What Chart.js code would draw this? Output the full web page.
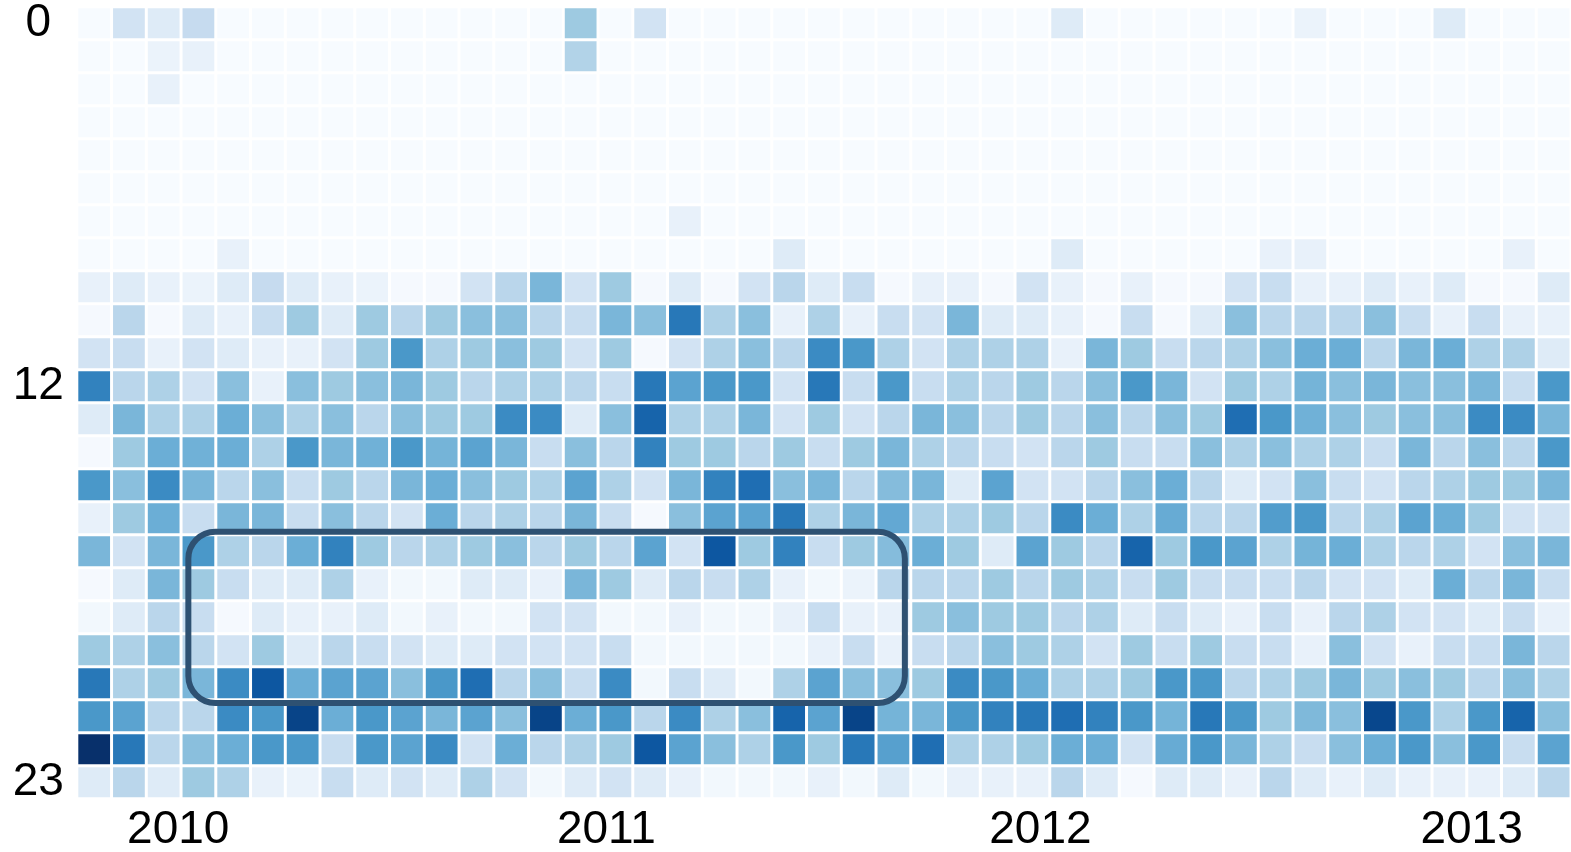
<!DOCTYPE html>
<html>
<head>
<meta charset="utf-8">
<script src="https://cdn.jsdelivr.net/npm/chart.js@4/dist/chart.umd.min.js"></script>
<style>
  html, body { margin: 0; padding: 0; background: #ffffff; }
  #wrap { width: 1571px; height: 852px; }
</style>
</head>
<body>
<div id="wrap"><canvas id="chart" width="1571" height="852"></canvas></div>
<script>
// Интенсивность по часам (строки 0..23) и периодам (43 столбца), шкала 0..8
var hourRows = [
  [0,1.5,1,2,0,0,0,0,0,0, 0,0,0,0,3,0,1.5,0,0,0, 0,0,0,0,0,0,0,0,1,0, 0,0,0,0,0,0.5,0,0,0,1, 0,0,0],
  [0,0,0.5,0.6,0,0,0,0,0,0, 0,0,0,0,2.5,0,0,0,0,0, 0,0,0,0,0,0,0,0,0,0, 0,0,0,0,0,0,0,0,0,0, 0,0,0],
  [0,0,0.6,0,0,0,0,0,0,0, 0,0,0,0,0,0,0,0,0,0, 0,0,0,0,0,0,0,0,0,0, 0,0,0,0,0,0,0,0,0,0, 0,0,0],
  [0,0,0,0,0,0,0,0,0,0, 0,0,0,0,0,0,0,0,0,0, 0,0,0,0,0,0,0,0,0,0, 0,0,0,0,0,0,0,0,0,0, 0,0,0],
  [0,0,0,0,0,0,0,0,0,0, 0,0,0,0,0,0,0,0,0,0, 0,0,0,0,0,0,0,0,0,0, 0,0,0,0,0,0,0,0,0,0, 0,0,0],
  [0,0,0,0,0,0,0,0,0,0, 0,0,0,0,0,0,0,0,0,0, 0,0,0,0,0,0,0,0,0,0, 0,0,0,0,0,0,0,0,0,0, 0,0,0],
  [0,0,0,0,0,0,0,0,0,0, 0,0,0,0,0,0,0,0.6,0,0, 0,0,0,0,0,0,0,0,0,0, 0,0,0,0,0,0,0,0,0,0, 0,0,0],
  [0,0,0,0,0.6,0,0,0,0,0, 0,0,0,0,0,0,0,0,0,0, 1,0,0,0,0,0,0,0,1,0, 0,0,0,0,0.6,0.6,0,0,0,0, 0,0.6,0],
  [0.6,1,0.6,0.5,1,2,1,0.6,0.5,0.1, 0.1,1.5,2.3,3.7,1.5,3,0.1,1,0.1,1.5, 2.3,1,1.9,0.1,0.6,0.6,0.1,1.5,0.6,0.1, 0.6,0.1,0.1,1.5,1.9,0.6,0.6,1,0.6,1, 0.1,0.1,1],
  [0.1,2.3,0.1,1,0.6,1.9,3,1,3,2.3, 3,3.4,3.4,2.3,1.9,3.7,3.4,5.8,2.6,3.4, 0.6,2.6,0.6,1.9,1.5,3.7,1,1,0.6,0.1, 1.9,0.1,1,3.4,2.3,2.3,2.3,3.4,1.9,0.6, 1.9,0.6,0.6],
  [1.5,1.9,0.6,1.5,1,0.6,0.6,1.5,3,4.8, 2.6,3,3.4,3,1.5,3,0.1,1.5,2.6,3.4, 2.3,5.2,4.8,2.6,1.5,2.6,2.6,2.6,0.6,3.7, 3,1.9,2.3,2.6,3.4,4,4,2.3,3.7,4, 2.6,2.6,1],
  [5.5,2.3,2.6,1.5,3.4,0.6,3.4,3,3.4,3.7, 3,2.3,2.6,2.6,2.3,1.9,5.8,4.4,4.8,4.8, 1.5,5.8,1.9,4.8,1.9,2.6,2.3,3,2.3,3.4, 4.8,3.7,1.5,3,2.6,3.8,3.4,3.7,3.4,3.4, 3.7,1.9,4.8],
  [1,3.7,2.6,2.6,4,3.4,2.6,3.4,2.3,3.4, 3,3,5.2,5.2,1,3.4,6.4,2.6,2.6,3.7, 1.5,3,1.5,2.3,3.7,3.4,2.3,3,2.3,3.4, 2.3,3.4,3,6.1,4.8,3.9,3.4,3,3.4,3.4, 5.2,5.2,3.7],
  [0.1,3,4,3.9,4,2.6,4.8,3.7,3.9,4.8, 3.8,4.4,3.7,1.9,3.4,2.3,5.5,3,3,2.3, 3,1.9,3,3.7,2.6,2.3,1.9,1.5,2.3,3, 1.9,1.9,3.4,2.6,3.4,2.6,2.6,1.9,3.7,2.3, 3.4,2.3,4.8],
  [4.8,3.4,5.2,3.7,2.3,3.4,1.9,3,2.3,3.7, 4,3.4,3,2.6,4.4,2.6,1.5,3.7,5.5,6.1, 3.4,3.7,2.3,3.5,3.7,1,4.4,1.5,1.5,2.3, 3.4,4,2.3,1,1.5,3.4,1.9,1.5,2.3,2.6, 3,3,3.7],
  [0.6,3,4,1.9,3.7,3.7,1.9,3.4,2.3,1.5, 4,2.3,2.6,2.3,3.7,1.9,0.1,3.4,4.4,4.4, 5.8,2.6,3.7,4.2,2.6,2.6,3,2.3,5.2,4, 2.6,4.1,2.3,2.3,4.6,4.8,2.3,2.6,4.4,4, 3,1.5,1.5],
  [3.7,1.5,3.7,4.8,2.6,2.3,4,5.5,3,2.3, 2.6,3,3.4,2.3,3,2.3,4.4,1.5,6.8,3, 5.5,1.9,3,3.5,4,3,1,4.4,3,2.3, 6.4,3,4.8,4.4,2.6,3.8,4,2.6,2.3,2.6, 1.5,3.4,3.7],
  [0.1,1,3.7,3,1.9,1,1,2.6,0.6,0.2, 0.2,1,1,0.6,3.7,3,1,2.3,1.9,2.6, 0.6,0.2,0.5,2.3,2.3,2.3,3,2.3,3,2.6, 1.9,3,1.9,1.9,1.9,2.3,1.5,1.5,1,4, 2.3,3.7,1.9],
  [0.2,1,2.3,1.9,0.1,1,0.6,0.6,1,0.2, 0.6,0.2,0.2,1.5,1.5,0.2,0.2,0.6,0.2,0.2, 0.6,1.9,0.6,0.6,3,3.4,3,3,2.3,2.6, 1,1.9,1,0.6,1.9,0.6,2.3,2.6,1.5,1.5, 1,1.9,0.6],
  [3,2.6,3.4,2.3,1.5,3,1,2.3,1.9,1.5, 1,1,1.5,1.5,1.5,1.9,0.2,0.2,0.2,0.2, 0.2,0.6,1.9,0.6,1.9,2.3,3.4,3,2.6,1.5, 3,1.9,3,1.9,1.9,0.6,3.4,1.5,0.6,1.9, 1.9,3.7,2.3],
  [5.8,2.6,3,3.7,5.2,6.8,4,4.4,4.4,3.4, 4.8,6.1,2.3,3.4,1.9,5.2,0.2,1.9,1,0.2, 2.6,4.4,3.4,3.4,3,5.2,4.8,4,2.6,2.6, 3,4.8,4.8,2.3,2.6,3,3.7,3,3.4,3, 2.3,3.4,2.6],
  [4.8,4.4,2.3,2.3,5.2,4.8,7.4,4,4.8,4.4, 3.7,4.4,3.4,7.4,4,4.8,2.3,5.2,2.6,3.4, 6.4,4.4,7.4,3.8,3.7,4.8,5.5,5.8,6.1,5.5, 4.8,3.8,5.8,4.8,3,3.6,3.4,7.3,4.8,2.6, 4.8,6.4,3.4],
  [8,5.8,2.3,3.4,4,4.8,4.8,1.9,4.8,4.4, 5.2,1.5,4,2.3,2.6,3,6.8,4.4,3.4,2.6, 4.8,3,5.8,4.5,6.1,2.6,2.6,3,4,4, 1.5,4.1,4.8,3.7,2.6,1.9,3.4,4,4.8,3.4, 4.8,1.9,4.4],
  [1,2.3,1,3,2.6,0.6,0.5,1.9,1,1.5, 1,2.6,1.5,0.2,1,1.5,1,0.6,0.2,0.2, 0.2,0.6,0.2,1,0.2,0.6,0.6,0.6,2.3,1, 0.1,1,1,0.6,2.3,1,0.6,1,0.6,0.6, 0.6,1,2.3]
];

// Подписи осей
var yearLabels = ['2010', '2011', '2012', '2013'];
var yearTickAt = [2.92, 15.24, 27.73, 40.14];   // в единицах столбцов
var hourLabels = ['0', '12', '23'];
var hourTickRow = [0, 11, 23];

// Выделенная область (столбцы / строки)
var highlight = { x0: 3.21, x1: 23.83, y0: 15.91, y1: 21.1 };

var columnCount = hourRows[0].length;
var rowCount = hourRows.length;

// Палитра Blues
var BLUES = [[247,251,255],[222,235,247],[198,219,239],[158,202,225],[107,174,214],
             [66,146,198],[33,113,181],[8,81,156],[8,48,107]];
function blues(v) {
  var t = Math.max(0, Math.min(8, v));
  var i = Math.min(7, Math.floor(t));
  var f = t - i;
  var a = BLUES[i], b = BLUES[i + 1];
  return 'rgb(' + Math.round(a[0] + (b[0] - a[0]) * f) + ',' +
                  Math.round(a[1] + (b[1] - a[1]) * f) + ',' +
                  Math.round(a[2] + (b[2] - a[2]) * f) + ')';
}

// Каждая строка часа — отдельный набор плавающих столбиков
var datasets = hourRows.map(function (row, r) {
  return {
    data: row.map(function (v, c) { return { x: c + 0.5, y: [r, r + 1], v: v }; }),
    backgroundColor: function (ctx) { return blues(ctx.raw ? ctx.raw.v : 0); },
    borderColor: '#ffffff',
    borderWidth: 1.5,
    borderSkipped: false,
    inflateAmount: 0,
    grouped: false,
    barPercentage: 1,
    categoryPercentage: 1
  };
});

var labelFont = { family: 'Liberation Sans, Arial, sans-serif', size: 46 };

// Рамка со скруглёнными углами поверх ячеек
var highlightBox = {
  id: 'highlightBox',
  afterDatasetsDraw: function (chart) {
    var x = chart.scales.x, y = chart.scales.y, ctx = chart.ctx;
    var l = x.getPixelForValue(highlight.x0), rgt = x.getPixelForValue(highlight.x1);
    var t = y.getPixelForValue(highlight.y0), b = y.getPixelForValue(highlight.y1);
    var rad = 27;
    ctx.save();
    ctx.beginPath();
    ctx.moveTo(l + rad, t);
    ctx.arcTo(rgt, t, rgt, b, rad);
    ctx.arcTo(rgt, b, l, b, rad);
    ctx.arcTo(l, b, l, t, rad);
    ctx.arcTo(l, t, rgt, t, rad);
    ctx.closePath();
    ctx.lineWidth = 6;
    ctx.strokeStyle = '#2e5172';
    ctx.stroke();
    ctx.restore();
  }
};

var chart = new Chart(document.getElementById('chart'), {
  type: 'bar',
  data: { datasets: datasets },
  options: {
    responsive: false,
    animation: false,
    devicePixelRatio: 1,
    layout: { padding: { top: 6.8, right: 0, left: 0, bottom: 0 } },
    plugins: { legend: { display: false }, tooltip: { enabled: false } },
    scales: {
      x: {
        type: 'linear',
        min: 0,
        max: columnCount,
        offset: false,
        grid: { display: false, drawTicks: false },
        border: { display: false },
        afterBuildTicks: function (axis) {
          axis.ticks = yearTickAt.map(function (v) { return { value: v }; });
        },
        afterFit: function (axis) {
          axis.height = 53.2;
          axis.paddingLeft = 0;
          axis.paddingRight = 0;
        },
        ticks: {
          autoSkip: false,
          maxRotation: 0,
          padding: 4,
          color: '#000000',
          font: labelFont,
          callback: function (value, index) { return yearLabels[index]; }
        }
      },
      y: {
        type: 'linear',
        min: 0,
        max: rowCount,
        reverse: true,
        grid: { display: false, drawTicks: false },
        border: { display: false },
        afterBuildTicks: function (axis) {
          axis.ticks = hourTickRow.map(function (r) { return { value: r + 0.5 }; });
        },
        afterFit: function (axis) {
          axis.width = 76.8;
          axis.paddingTop = 0;
          axis.paddingBottom = 0;
        },
        ticks: {
          autoSkip: false,
          crossAlign: 'center',
          padding: 13,
          color: '#000000',
          font: labelFont,
          callback: function (value, index) { return hourLabels[index]; }
        }
      }
    }
  },
  plugins: [highlightBox]
});
</script>
</body>
</html>
